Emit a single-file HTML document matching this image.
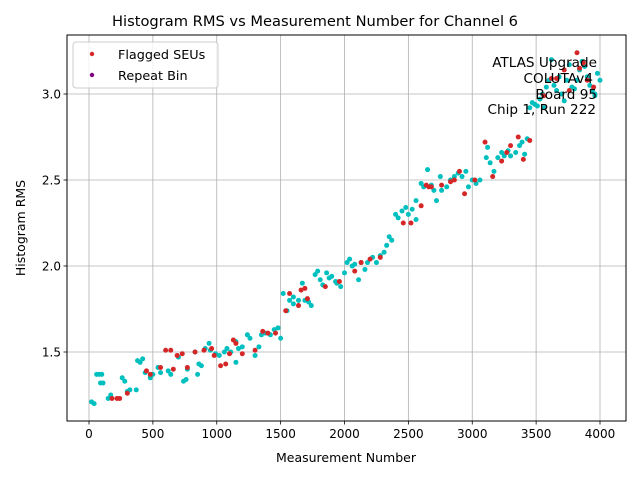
<!DOCTYPE html>
<html><head><meta charset="utf-8">
<style>
body{margin:0;background:#fff;}
svg{display:block;font-family:"DejaVu Sans","Liberation Sans",sans-serif;}
</style></head>
<body>
<svg id="chart" width="640" height="480" xmlns="http://www.w3.org/2000/svg">
<rect width="640" height="480" fill="#fff"/>
<text x="112" y="26" font-size="14.5" textLength="406" lengthAdjust="spacingAndGlyphs">Histogram RMS vs Measurement Number for Channel 6</text>
<g id="grid"></g>
<g id="ticks"></g>
<g id="points"></g>
<rect x="67" y="35" width="559" height="386" fill="none" stroke="#000" stroke-width="1"/>
<text x="346" y="462" text-anchor="middle" font-size="12.5">Measurement Number</text>
<text transform="translate(25,228) rotate(-90)" text-anchor="middle" font-size="12.5">Histogram RMS</text>
<g font-size="13.6" text-anchor="end">
<text x="597" y="67">ATLAS Upgrade</text>
<text x="593" y="83">COLUTAv4</text>
<text x="597" y="99">Board 95</text>
<text x="596" y="114">Chip 1, Run 222</text>
</g>
<g>
<rect x="73" y="42" width="145" height="46" rx="3" fill="#fff" fill-opacity="0.8" stroke="#ccc"/>
<circle cx="92" cy="54" r="2.2" fill="#d62728"/>
<text x="118" y="59" font-size="12.8">Flagged SEUs</text>
<circle cx="92" cy="75" r="2.2" fill="#800080"/>
<text x="118" y="80" font-size="12.8">Repeat Bin</text>
</g>
</svg>
<script>
const xTicks=[0,500,1000,1500,2000,2500,3000,3500,4000];
const yTicks=[1.5,2.0,2.5,3.0];
const yTickLabels=["1.5","2.0","2.5","3.0"];
const normalX=[20,40,60,80,90,110,150,170,260,280,300,320,370,380,400,420,440,480,500,540,560,620,640,700,740,760,770,830,860,880,910,940,950,990,1020,1060,1080,1110,1150,1170,1200,1240,1260,1300,1330,1350,1380,1420,1450,1480,1500,1520,1550,1570,1600,1640,1670,1690,1720,1740,1770,1790,1810,1830,1860,1880,1900,1940,1970,2000,2020,2040,2060,2080,2110,2130,2160,2180,2220,2250,2280,2310,2330,2350,2370,2400,2420,2450,2480,2500,2530,2560,2600,2620,2650,2680,2700,2720,2750,2760,2800,2830,2860,2890,2920,2950,2970,3000,3030,3060,3110,3120,3140,3170,3200,3230,3250,3280,3300,3340,3370,3390,3410,3430,3450,3470,3490,3510,3530,3550,3560,3580,3600,3620,3640,3660,3680,3700,3720,3740,3760,3780,3800,3820,3840,3860,3880,3900,3920,3940,3960,3980,4000,3960,2560,1930,1600,1150,850,480,100];
const normalY=[1.21,1.2,1.37,1.37,1.32,1.32,1.23,1.25,1.35,1.33,1.27,1.28,1.28,1.45,1.44,1.46,1.38,1.35,1.37,1.41,1.38,1.39,1.37,1.47,1.33,1.34,1.4,1.5,1.43,1.42,1.52,1.55,1.51,1.49,1.48,1.5,1.52,1.5,1.56,1.52,1.53,1.6,1.58,1.48,1.53,1.6,1.61,1.6,1.63,1.64,1.58,1.84,1.74,1.8,1.82,1.8,1.9,1.8,1.79,1.77,1.95,1.97,1.92,1.89,1.96,1.93,1.94,1.9,1.88,1.96,2.02,2.04,2.0,2.01,1.92,2.02,1.98,2.02,2.05,2.02,2.06,2.08,2.12,2.17,2.15,2.3,2.28,2.32,2.34,2.3,2.33,2.38,2.48,2.46,2.56,2.47,2.44,2.38,2.52,2.44,2.46,2.5,2.52,2.54,2.52,2.55,2.46,2.5,2.48,2.5,2.63,2.69,2.6,2.55,2.63,2.66,2.64,2.67,2.64,2.66,2.7,2.72,2.65,2.74,2.92,2.95,2.94,2.93,2.97,3.0,2.92,3.04,3.08,3.2,3.05,3.02,3.1,3.0,2.96,3.08,3.17,3.04,3.03,3.08,3.14,3.19,3.16,3.1,3.05,3.02,2.99,3.12,3.08,3.0,2.27,1.91,1.78,1.44,1.37,1.36,1.37];
const flaggedX=[180,220,240,300,450,480,560,600,640,660,690,730,770,900,960,980,1030,1070,1100,1130,1150,1200,1300,1360,1400,1540,1570,1640,1660,1690,1710,1850,1960,2080,2130,2200,2280,2460,2520,2600,2640,2680,2760,2860,2900,2940,3020,3100,3160,3230,3270,3300,3360,3400,3450,3560,3620,3660,3720,3760,3820,3840,3870,3900,3950,2830,2660,1460,830];
const flaggedY=[1.23,1.23,1.23,1.26,1.39,1.37,1.41,1.51,1.51,1.4,1.48,1.49,1.41,1.51,1.52,1.48,1.42,1.43,1.49,1.57,1.55,1.49,1.51,1.62,1.61,1.74,1.84,1.77,1.86,1.87,1.81,1.88,1.91,1.97,2.02,2.04,2.05,2.25,2.25,2.35,2.47,2.46,2.47,2.5,2.55,2.42,2.5,2.72,2.52,2.61,2.66,2.7,2.75,2.62,2.73,2.99,3.09,3.09,3.14,3.02,3.24,3.15,3.18,3.08,3.04,2.49,2.46,1.61,1.5];
const repeatX=[];
const repeatY=[];

const NS="http://www.w3.org/2000/svg";
const L=67,R=626,T=35,B=421;
function sx(v){return 89+v*(511/4000);}
function sy(v){return 352-(v-1.5)*172;}
const grid=document.getElementById('grid'),ticks=document.getElementById('ticks'),pts=document.getElementById('points');
function mk(tag,attrs,parent){const e=document.createElementNS(NS,tag);for(const k in attrs)e.setAttribute(k,attrs[k]);parent.appendChild(e);return e;}
xTicks.forEach(t=>{
  const x=sx(t);
  const g=mk('line',{x1:x,x2:x,y1:T,y2:B,stroke:'#b0b0b0','stroke-width':0.8},grid);
  
  
  mk('line',{x1:x,x2:x,y1:B,y2:B+3.5,stroke:'#000','stroke-width':0.8},ticks);
  const lb=mk('text',{x:x,y:B+17,'text-anchor':'middle','font-size':12},ticks);
  lb.textContent=String(t);
  
  
});
yTicks.forEach((t,i)=>{
  const y=sy(t);
  const g=mk('line',{x1:L,x2:R,y1:y,y2:y,stroke:'#b0b0b0','stroke-width':0.8},grid);
  
  
  mk('line',{x1:L-3.5,x2:L,y1:y,y2:y,stroke:'#000','stroke-width':0.8},ticks);
  const lb=mk('text',{x:L-6,y:y+4.5,'text-anchor':'end','font-size':12},ticks);
  lb.textContent=yTickLabels[i];
  
  
});
normalX.forEach((v,i)=>{
  const c=mk('circle',{cx:sx(v),cy:sy(normalY[i]),r:2.5,fill:'#00bfbf'},pts);
  
  
});
flaggedX.forEach((v,i)=>{
  const c=mk('circle',{cx:sx(v),cy:sy(flaggedY[i]),r:2.5,fill:'#d62728'},pts);
  
  
});
repeatX.forEach((v,i)=>{
  const c=mk('circle',{cx:sx(v),cy:sy(repeatY[i]),r:2.5,fill:'#800080'},pts);
  
  
});
</script>
</body></html>
